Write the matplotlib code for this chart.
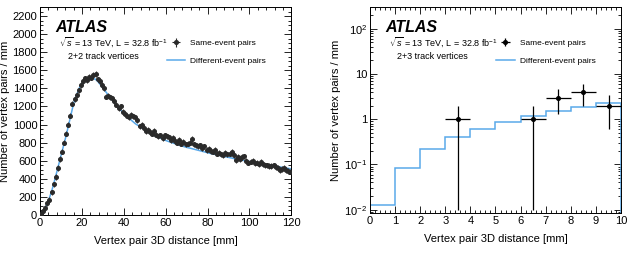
import numpy as np
import matplotlib
matplotlib.use("Agg")
import matplotlib.pyplot as plt
from matplotlib.ticker import MultipleLocator, FixedLocator, FixedFormatter, LogLocator, NullFormatter

plt.rcParams['font.family'] = ['Liberation Sans', 'DejaVu Sans']
plt.rcParams['mathtext.fontset'] = 'custom'
plt.rcParams['mathtext.rm'] = 'Liberation Sans'
plt.rcParams['mathtext.it'] = 'Liberation Sans:italic'

# 2+2 : même évènement (points) et évènements différents (ligne), bins de 1 mm
dist_22 = np.arange(0.5, 120, 1.0)
same_22 = [
    10, 40, 80, 130, 170, 250, 340, 420, 520, 620,
    700, 800, 900, 1000, 1100, 1230, 1280, 1330, 1380, 1440,
    1480, 1510, 1490, 1530, 1520, 1550, 1560, 1500, 1480, 1440,
    1400, 1310, 1320, 1300, 1290, 1260, 1220, 1180, 1200, 1140,
    1120, 1100, 1080, 1110, 1090, 1080, 1050, 980, 1000, 960,
    930, 940, 920, 900, 930, 890, 870, 880, 850, 880,
    870, 860, 830, 850, 820, 800, 830, 790, 810, 780,
    790, 800, 840, 780, 770, 760, 770, 740, 760, 720,
    730, 710, 700, 720, 680, 690, 670, 660, 690, 670,
    680, 700, 660, 610, 640, 620, 640, 650, 600, 580,
    590, 600, 570, 580, 560, 590, 560, 550, 550, 540,
    540, 550, 530, 520, 500, 510, 520, 500, 490, 480,
]
diff_22 = [
    5, 30, 75, 130, 190, 260, 340, 430, 520, 610,
    700, 790, 880, 980, 1080, 1180, 1270, 1330, 1390, 1440,
    1470, 1490, 1500, 1510, 1515, 1510, 1500, 1480, 1450, 1420,
    1390, 1360, 1330, 1300, 1270, 1240, 1210, 1185, 1160, 1135,
    1110, 1090, 1070, 1050, 1030, 1010, 995, 980, 965, 950,
    935, 920, 905, 890, 880, 870, 860, 850, 840, 830,
    820, 812, 804, 796, 788, 780, 772, 765, 758, 751,
    745, 740, 734, 728, 722, 716, 710, 704, 698, 692,
    686, 680, 675, 670, 665, 660, 655, 650, 645, 640,
    635, 630, 625, 620, 615, 610, 606, 602, 598, 594,
    590, 585, 580, 576, 572, 568, 564, 560, 556, 552,
    548, 544, 540, 536, 532, 528, 524, 520, 516, 512,
]

# 2+3 : bins de 1 mm
edges_23 = np.arange(0, 11, 1)
diff_23 = [0.013, 0.085, 0.22, 0.40, 0.60, 0.87, 1.15, 1.50, 1.85, 2.25]
x_23 = [3.5, 6.5, 7.5, 8.5, 9.5]
same_23 = [1, 1, 3, 4, 2]
err_bas_23 = [0.99, 0.99, 1.7, 2.0, 1.4]
err_haut_23 = [1.0, 1.0, 1.75, 2.0, 1.4]

GRIS = '#2a2a2a'
BLEU = '#5aa9ea'

fig = plt.figure(figsize=(6.3, 2.6), dpi=100)
ax1 = fig.add_axes([0.0635, 0.173, 0.399, 0.800])
ax2 = fig.add_axes([0.587, 0.181, 0.399, 0.792])


def style_axes(ax):
    ax.tick_params(which='both', direction='in', top=True, right=True, labelsize=8, width=0.6, pad=2)
    ax.tick_params(which='major', length=5)
    ax.tick_params(which='minor', length=2.5)
    for s in ax.spines.values():
        s.set_linewidth(0.7)
    ax.set_xlabel("Vertex pair 3D distance [mm]", fontsize=8, labelpad=6)
    ax.set_ylabel("Number of vertex pairs / mm", fontsize=8, labelpad=2)


# Panneau gauche
ax1.plot(dist_22, diff_22, color=BLEU, lw=1.1, label="Different-event pairs", zorder=2)
ax1.errorbar(dist_22, same_22, yerr=30, xerr=0.5, fmt='o', ms=2.6, color=GRIS,
             elinewidth=0.8, capsize=0, label="Same-event pairs", zorder=3)
ax1.set_xlim(0, 120)
ax1.set_ylim(0, 2300)
ax1.xaxis.set_major_locator(MultipleLocator(20))
ax1.xaxis.set_minor_locator(MultipleLocator(4))
ax1.yaxis.set_major_locator(MultipleLocator(200))
ax1.yaxis.set_minor_locator(MultipleLocator(50))
style_axes(ax1)

# Panneau droit
ax2.stairs(diff_23, edges_23, color=BLEU, lw=1.1, label="Different-event pairs", zorder=2)
ax2.errorbar(x_23, same_23, yerr=[err_bas_23, err_haut_23], xerr=0.5, fmt='o', ms=2.6,
             color='black', elinewidth=0.9, capsize=0, label="Same-event pairs", zorder=3)
ax2.set_yscale('log')
ax2.set_xlim(0, 10)
ax2.set_ylim(0.0085, 300)
ax2.xaxis.set_major_locator(MultipleLocator(1))
ax2.xaxis.set_minor_locator(MultipleLocator(0.2))
ax2.yaxis.set_major_locator(FixedLocator([0.01, 0.1, 1, 10, 100]))
ax2.yaxis.set_major_formatter(FixedFormatter([r'$10^{-2}$', r'$10^{-1}$', '1', '10', r'$10^{2}$']))
ax2.yaxis.set_minor_locator(LogLocator(base=10, subs=np.arange(2, 10)))
ax2.yaxis.set_minor_formatter(NullFormatter())
style_axes(ax2)

for ax, titre in [(ax1, "2+2 track vertices"), (ax2, "2+3 track vertices")]:
    ax.text(0.06, 0.90, "ATLAS", transform=ax.transAxes, fontsize=11.5,
            fontweight='bold', fontstyle='italic', va='center', ha='left')
    ax.text(0.075, 0.83, r"$\sqrt{s}$ = 13 TeV, L = 32.8 fb$^{-1}$", transform=ax.transAxes,
            fontsize=6.5, va='center', ha='left')
    ax.text(0.11, 0.76, titre, transform=ax.transAxes, fontsize=6.5, va='center', ha='left')
    h, l = ax.get_legend_handles_labels()
    ax.legend(h[::-1], l[::-1], loc='upper left', bbox_to_anchor=(0.49, 0.86),
              frameon=False, fontsize=6, handlelength=2.2, labelspacing=1.2,
              handletextpad=0.6, borderaxespad=0)

fig.savefig("out.png", dpi=100)
